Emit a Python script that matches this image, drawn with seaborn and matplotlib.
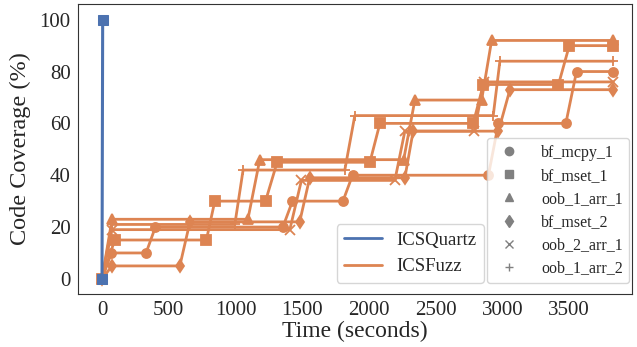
import matplotlib
matplotlib.use('Agg')
import matplotlib.pyplot as plt
from matplotlib.lines import Line2D
import seaborn as sns

# benchmark names and their markers
benchmarks = ['bf_mcpy_1', 'bf_mset_1', 'oob_1_arr_1', 'bf_mset_2', 'oob_2_arr_1', 'oob_1_arr_2']
markers = ['o', 's', '^', 'd', 'x', '+']

# ICSQuartz reaches full coverage right away
quartz_t = [0, 5]
quartz_cov = [0, 100]

# ICSFuzz coverage over time, one list per benchmark
fuzz_t = {
    'bf_mcpy_1':   [0, 70, 330, 400, 1355, 1427, 1805, 1877, 2895, 2970, 3475, 3555, 3830],
    'bf_mset_1':   [0, 95, 782, 845, 1225, 1312, 2007, 2082, 2781, 2857, 3420, 3501, 3830],
    'oob_1_arr_1': [0, 75, 1093, 1182, 2260, 2344, 2844, 2919, 3830],
    'bf_mset_2':   [0, 75, 583, 659, 1481, 1556, 2269, 2331, 2970, 3056, 3830],
    'oob_2_arr_1': [0, 75, 1407, 1494, 2194, 2269, 2790, 2860, 3830],
    'oob_1_arr_2': [0, 75, 995, 1057, 1819, 1894, 2931, 2981, 3830],
}
fuzz_cov = {
    'bf_mcpy_1':   [0, 10, 10, 20, 20, 30, 30, 40, 40, 60, 60, 80, 80],
    'bf_mset_1':   [0, 15, 15, 30, 30, 45, 45, 60, 60, 75, 75, 90, 90],
    'oob_1_arr_1': [0, 23, 23, 46, 46, 69, 69, 92, 92],
    'bf_mset_2':   [0, 5, 5, 22, 22, 39, 39, 57, 57, 73, 73],
    'oob_2_arr_1': [0, 19, 19, 38, 38, 57, 57, 76, 76],
    'oob_1_arr_2': [0, 21, 21, 42, 42, 63, 63, 84, 84],
}

tools = ['ICSQuartz', 'ICSFuzz']


def main():
    sns.set_style('white', {'axes.edgecolor': '.2'})
    plt.rcParams['font.family'] = ['Liberation Serif', 'DejaVu Serif']
    pal = sns.color_palette('deep')
    c_quartz, c_fuzz = pal[0], pal[1]

    fig, ax = plt.subplots(figsize=(6.37, 3.47), dpi=100)

    for name, m in zip(benchmarks, markers):
        sns.lineplot(x=fuzz_t[name], y=fuzz_cov[name], color=c_fuzz, marker=m,
                     markersize=6.5, markeredgecolor=c_fuzz, markeredgewidth=1.3,
                     linewidth=2, estimator=None, sort=False, ax=ax)
    sns.lineplot(x=quartz_t, y=quartz_cov, color=c_quartz, marker='s',
                 markersize=6.5, markeredgecolor=c_quartz, linewidth=2.2,
                 estimator=None, sort=False, ax=ax)

    ax.set_xlabel('Time (seconds)', fontsize=17, labelpad=1)
    ax.set_ylabel('Code Coverage (%)', fontsize=17.5, labelpad=6)
    ax.tick_params(labelsize=15, length=0, pad=5)
    ax.set_xticks(range(0, 3501, 500))
    ax.set_yticks(range(0, 101, 20))
    ax.set_xlim(-182, 3970)
    ax.set_ylim(-5.8, 106)

    h1 = [Line2D([0], [0], color=c_quartz, lw=2), Line2D([0], [0], color=c_fuzz, lw=2)]
    leg1 = ax.legend(h1, tools, loc='lower left', bbox_to_anchor=(0.467, 0.038),
                     borderaxespad=0, fontsize=13.5, handlelength=2.0)
    ax.add_artist(leg1)

    h2 = [Line2D([0], [0], color='gray', marker=m, linestyle='none', markersize=6)
          for m in markers]
    ax.legend(h2, benchmarks, loc='lower right', bbox_to_anchor=(0.995, 0.038),
              borderaxespad=0, fontsize=11.5, labelspacing=0.45, handletextpad=1.0)

    plt.subplots_adjust(left=0.122, right=0.992, bottom=0.153, top=0.988)
    fig.savefig('out.png')
    plt.close()


if __name__ == '__main__':
    main()
